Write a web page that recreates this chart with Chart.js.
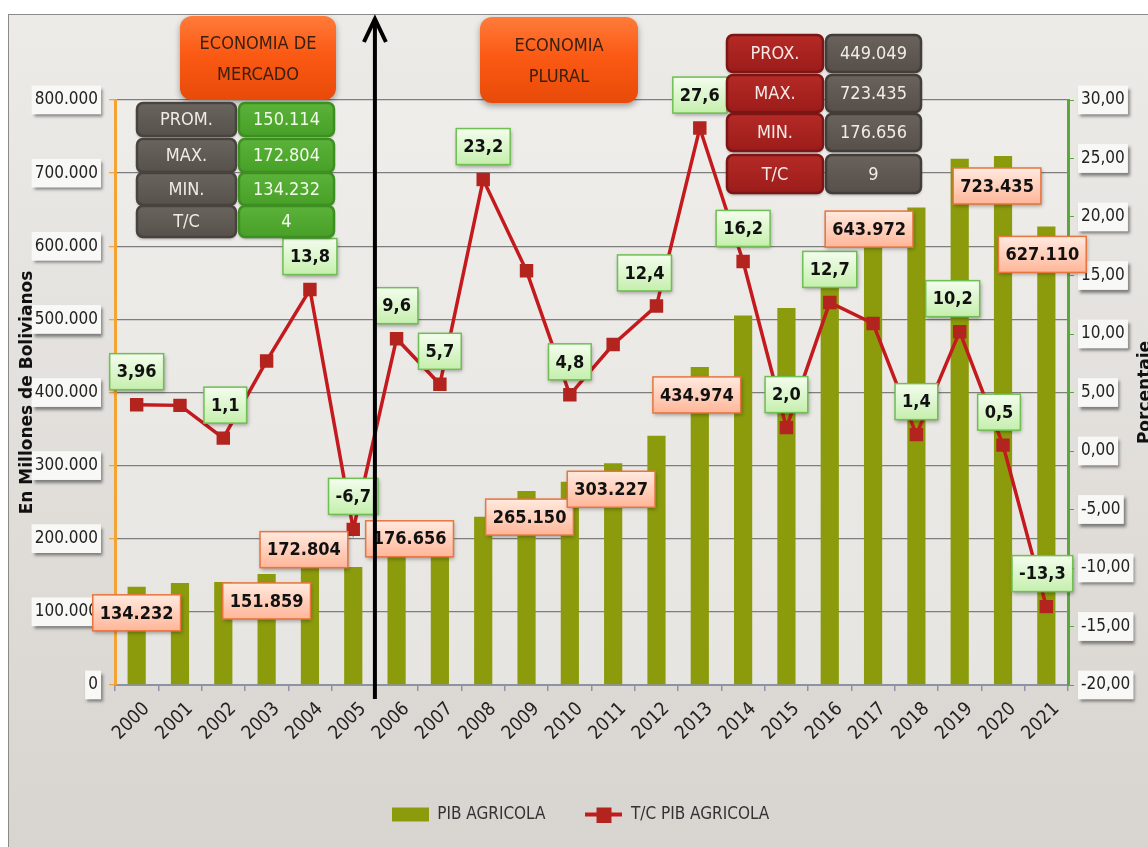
<!DOCTYPE html>
<html><head><meta charset="utf-8">
<script src="https://cdn.jsdelivr.net/npm/chart.js@4.4.1/dist/chart.umd.min.js"></script>
<style>
html,body{margin:0;padding:0;background:#fff;overflow:hidden;}
canvas{display:block;}
</style></head><body>
<canvas id="c" width="1148" height="847" style="width:1148px;height:847px"></canvas>
<script>
// ---------- data ----------
const years = ['2000','2001','2002','2003','2004','2005','2006','2007','2008','2009','2010','2011','2012','2013','2014','2015','2016','2017','2018','2019','2020','2021'];
const pibAgricola = [134232,139500,141000,151859,172804,161300,176656,186700,230000,265150,277900,303227,340800,434974,505400,515500,581000,643972,653000,719600,723435,627110];
const tcPibAgricola = [3.96,3.9,1.1,7.7,13.8,-6.7,9.6,5.7,23.2,15.4,4.8,9.1,12.4,27.6,16.2,2.0,12.7,10.9,1.4,10.2,0.5,-13.3];
const leftTicks = [0,100000,200000,300000,400000,500000,600000,700000,800000];
const rightTicks = [-20,-15,-10,-5,0,5,10,15,20,25,30];
const tcLabelYears = ['2000','2002','2004','2005','2006','2007','2008','2010','2012','2013','2014','2015','2016','2018','2019','2020','2021'];
const pibLabelYears = ['2000','2003','2004','2006','2009','2011','2013','2017','2020','2021'];
const statsMercado = [['PROM.','150.114'],['MAX.','172.804'],['MIN.','134.232'],['T/C','4']];
const statsPlural = [['PROX.','449.049'],['MAX.','723.435'],['MIN.','176.656'],['T/C','9']];

// ---------- placement / style (not data) ----------
const pibLabelShift = {'2000':[0,26],'2003':[0,27],'2004':[-6,-9],'2006':[13,-17],'2009':[3,26],'2011':[-2,26],'2013':[-3,28],'2017':[-4,15],'2020':[-6,30],'2021':[-4,28]};
const tcLabelShift = {'2002':[2,0],'2012':[-12,0],'2019':[-7,0],'2020':[-4,0],'2021':[-4,0]};
const FONT = "'Liberation Sans Narrow','DejaVu Sans Condensed','Roboto Condensed','Liberation Sans',sans-serif";

function fmtThousands(v){ return String(v).replace(/\B(?=(\d{3})+(?!\d))/g,'.'); }
function fmtPct(v){ const d = (Math.round(Math.abs(v)*100)%10!==0)?2:1; return v.toFixed(d).replace('.',','); }

function rr(ctx,x,y,w,h,r){ ctx.beginPath(); ctx.moveTo(x+r,y); ctx.arcTo(x+w,y,x+w,y+h,r); ctx.arcTo(x+w,y+h,x,y+h,r); ctx.arcTo(x,y+h,x,y,r); ctx.arcTo(x,y,x+w,y,r); ctx.closePath(); }

function drawTag(ctx,text,cx,cy,c1,c2,border){
  ctx.save();
  ctx.font = "bold 18px "+FONT;
  const w = ctx.measureText(text).width + 14, h = 36;
  const x = cx - w/2, y = cy - h/2;
  ctx.save();
  ctx.shadowColor='rgba(0,0,0,0.35)'; ctx.shadowBlur=4; ctx.shadowOffsetX=1; ctx.shadowOffsetY=2;
  const g = ctx.createLinearGradient(0,y,0,y+h); g.addColorStop(0,c1); g.addColorStop(1,c2);
  ctx.fillStyle=g; ctx.fillRect(x,y,w,h);
  ctx.restore();
  ctx.strokeStyle=border; ctx.lineWidth=1.5; ctx.strokeRect(x,y,w,h);
  ctx.fillStyle='#111'; ctx.textAlign='center'; ctx.textBaseline='middle';
  ctx.fillText(text,cx,cy+1);
  ctx.restore();
}

function legendImg(kind){
  const c = document.createElement('canvas'); c.width=37; c.height=16;
  const x = c.getContext('2d');
  if(kind==='bar'){ x.fillStyle='#8b9b0c'; x.fillRect(0,1,37,14); }
  else { x.fillStyle='#c41a1d'; x.fillRect(0,6,37,4); x.fillStyle='#b3241f'; x.fillRect(11,1,15,15); }
  return c;
}
const imgBar = legendImg('bar'), imgLine = legendImg('line');

const bgPlugin = {
  id:'bg',
  beforeDraw(chart){
    const {ctx, chartArea:a, width, height} = chart;
    ctx.save();
    ctx.fillStyle='#ffffff'; ctx.fillRect(0,0,width,height);
    const g = ctx.createLinearGradient(0,14,0,height);
    g.addColorStop(0,'#ecebe8'); g.addColorStop(1,'#d8d4cf');
    ctx.fillStyle=g; ctx.fillRect(8,14,width,height);
    ctx.strokeStyle='#8a8a8a'; ctx.lineWidth=1; ctx.strokeRect(8.5,14.5,width+10,height+10);
    const g2 = ctx.createLinearGradient(0,a.top,0,a.bottom);
    g2.addColorStop(0,'#eeedea'); g2.addColorStop(1,'#e7e5e2');
    ctx.fillStyle=g2; ctx.fillRect(a.left,a.top,a.right-a.left,a.bottom-a.top);
    ['y','y1'].forEach(id=>{
      const s = chart.scales[id];
      s.getLabelItems(a).forEach(it=>{
        const b = it.options.backdrop; if(!b) return;
        const t = it.options.translation;
        ctx.save();
        ctx.shadowColor='rgba(0,0,0,0.45)'; ctx.shadowBlur=3; ctx.shadowOffsetX=2; ctx.shadowOffsetY=3;
        ctx.fillStyle=b.color; ctx.fillRect(t[0]+b.left,t[1]+b.top,b.width,b.height);
        ctx.restore();
      });
    });
    ctx.restore();
  }
};

const labelPlugin = {
  id:'tags',
  afterDatasetsDraw(chart){
    const ctx = chart.ctx;
    const bars = chart.getDatasetMeta(0).data, pts = chart.getDatasetMeta(1).data;
    tcLabelYears.forEach(yr=>{
      const i = years.indexOf(yr), p = pts[i];
      const s = tcLabelShift[yr] || [0,0];
      drawTag(ctx, fmtPct(tcPibAgricola[i]), p.x+s[0], p.y-33+s[1], '#f4fdee','#c5efad','#6fbf52');
    });
    pibLabelYears.forEach(yr=>{
      const i = years.indexOf(yr), b = bars[i];
      const s = pibLabelShift[yr] || [0,26];
      drawTag(ctx, fmtThousands(pibAgricola[i]), b.x+s[0], b.y+s[1], '#ffeadf','#ffb699','#e8743e');
    });
  }
};

function statCell(ctx,x,y,w,h,fill,fill2,border,text,color){
  ctx.save();
  ctx.shadowColor='rgba(0,0,0,0.35)'; ctx.shadowBlur=3; ctx.shadowOffsetY=2;
  const g = ctx.createLinearGradient(0,y,0,y+h); g.addColorStop(0,fill); g.addColorStop(1,fill2);
  rr(ctx,x,y,w,h,6); ctx.fillStyle=g; ctx.fill();
  ctx.restore();
  rr(ctx,x,y,w,h,6); ctx.strokeStyle=border; ctx.lineWidth=2.5; ctx.stroke();
  ctx.fillStyle=color; ctx.font="18px "+FONT; ctx.textAlign='center'; ctx.textBaseline='middle';
  ctx.fillText(text,x+w/2,y+h/2+1);
}

function ecoBox(ctx,x,y,w,h,lines){
  ctx.save();
  ctx.shadowColor='rgba(0,0,0,0.35)'; ctx.shadowBlur=6; ctx.shadowOffsetY=3;
  const g = ctx.createLinearGradient(0,y,0,y+h);
  g.addColorStop(0,'#ff7b3a'); g.addColorStop(0.45,'#fb5a14'); g.addColorStop(1,'#e84a08');
  rr(ctx,x,y,w,h,12); ctx.fillStyle=g; ctx.fill();
  ctx.restore();
  ctx.save();
  ctx.fillStyle='#3a2010'; ctx.font="18px "+FONT; ctx.textAlign='center'; ctx.textBaseline='middle';
  lines.forEach((t,k)=>ctx.fillText(t,x+w/2,y+h/2+2+(k-(lines.length-1)/2)*31));
  ctx.restore();
}

const overlayPlugin = {
  id:'overlay',
  afterDraw(chart){
    const ctx = chart.ctx, xs = chart.scales.x, a = chart.chartArea;
    ctx.save();
    ecoBox(ctx,180,16,156,84,['ECONOMIA DE','MERCADO']);
    ecoBox(ctx,480,17,158,86,['ECONOMIA','PLURAL']);
    const rowsL = [[103,33],[139,33],[173,32],[206,31]];
    statsMercado.forEach((r,k)=>{
      statCell(ctx,137,rowsL[k][0],99,rowsL[k][1],'#6a645e','#57514c','#48433f',r[0],'#efebe7');
      statCell(ctx,239,rowsL[k][0],95,rowsL[k][1],'#5cb23a','#47a027','#3e8f22',r[1],'#f1fbe9');
    });
    const rowsR = [[35,37],[75,37],[114,37],[155,38]];
    statsPlural.forEach((r,k)=>{
      statCell(ctx,727,rowsR[k][0],96,rowsR[k][1],'#b42a26','#9c1c1a','#7d1514',r[0],'#f6e9e6');
      statCell(ctx,826,rowsR[k][0],95,rowsR[k][1],'#6a625c','#564f4a','#433d39',r[1],'#efebe8');
    });
    // arrow between the two periods
    const ax = (xs.getPixelForValue(5)+xs.getPixelForValue(6))/2;
    ctx.strokeStyle='#000'; ctx.lineWidth=4; ctx.lineCap='butt';
    ctx.beginPath(); ctx.moveTo(ax,a.bottom+14); ctx.lineTo(ax,20); ctx.stroke();
    ctx.lineJoin='miter';
    ctx.beginPath(); ctx.moveTo(ax-11,42); ctx.lineTo(ax,19); ctx.lineTo(ax+11,42); ctx.stroke();
    // right axis title (reads bottom to top)
    ctx.translate(1146,(a.top+a.bottom)/2); ctx.rotate(-Math.PI/2);
    ctx.fillStyle='#111'; ctx.font="bold 17px 'DejaVu Sans',sans-serif"; ctx.textAlign='center'; ctx.textBaseline='middle';
    ctx.fillText('Porcentaje',0,0);
    ctx.restore();
  }
};

const tickFont = {family:FONT,size:17};
new Chart(document.getElementById('c'),{
  type:'bar',
  data:{labels:years,datasets:[
    {type:'bar',label:'PIB AGRICOLA',data:pibAgricola,backgroundColor:'#8b9b0c',yAxisID:'y',order:2,barPercentage:0.42,categoryPercentage:1},
    {type:'line',label:'T/C PIB AGRICOLA',data:tcPibAgricola,borderColor:'#c41a1d',borderWidth:3.5,pointStyle:'rect',pointRadius:9.5,pointBackgroundColor:'#b3241f',pointBorderColor:'#b3241f',pointBorderWidth:0,yAxisID:'y1',order:1,tension:0}
  ]},
  options:{
    responsive:false,animation:false,devicePixelRatio:1,
    layout:{padding:{top:100,left:13,right:0,bottom:14}},
    plugins:{
      tooltip:{enabled:false},
      legend:{position:'bottom',labels:{usePointStyle:true,pointStyleWidth:37,boxHeight:14,padding:40,font:{family:FONT,size:17},color:'#333',
        generateLabels:(chart)=>chart.data.datasets.map((ds,i)=>({text:ds.label,pointStyle:i===0?imgBar:imgLine,fillStyle:'#000',strokeStyle:'#000',lineWidth:0,hidden:false,datasetIndex:i,fontColor:'#333'}))}}
    },
    scales:{
      x:{grid:{offset:true,drawOnChartArea:false,color:'#8b93a5',tickLength:6,lineWidth:1.5},border:{color:'#8b93a5',width:2},
         ticks:{minRotation:45,maxRotation:45,autoSkip:false,font:{family:FONT,size:19},color:'#222',labelOffset:10,padding:7},
         afterFit:s=>{s.height=81;}},
      y:{position:'left',min:0,max:800000,afterBuildTicks:s=>{s.ticks=leftTicks.map(v=>({value:v}));},
         ticks:{callback:v=>fmtThousands(v),font:tickFont,color:'#222',padding:11,showLabelBackdrop:true,backdropColor:'#f8f8f6',backdropPadding:{x:3,y:4}},
         grid:{color:'#7e7e7e',lineWidth:1.3,tickColor:'#f4a435',tickLength:6},border:{color:'#f4a435',width:3},
         title:{display:true,text:'En Millones de Bolivianos',font:{family:"'DejaVu Sans',sans-serif",size:17,weight:'bold'},color:'#111',padding:{top:4,bottom:4}},
         afterFit:s=>{s.width=102;}},
      y1:{position:'right',min:-20,max:30,afterBuildTicks:s=>{s.ticks=rightTicks.map(v=>({value:v}));},
         ticks:{callback:v=>v.toFixed(2).replace('.',','),font:tickFont,color:'#222',padding:7,showLabelBackdrop:true,backdropColor:'#f8f8f6',backdropPadding:{x:3,y:4}},
         grid:{drawOnChartArea:false,tickColor:'#5aa83a',tickLength:6},border:{color:'#5aa83a',width:3},
         afterFit:s=>{s.width=80;}}
    }
  },
  plugins:[bgPlugin,labelPlugin,overlayPlugin]
});
</script>
</body></html>
